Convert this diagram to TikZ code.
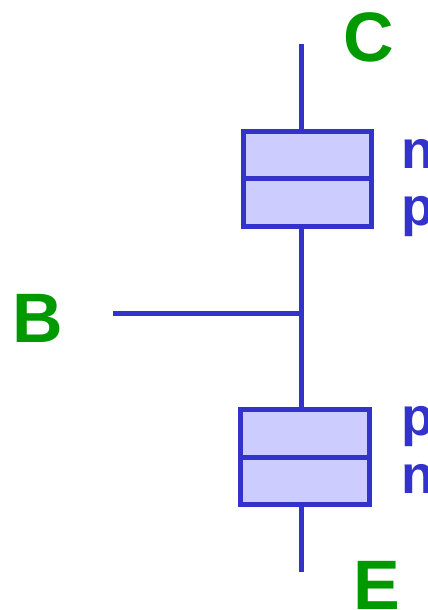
\documentclass[tikz,border=0pt]{standalone}
\usepackage{fontspec}
\setmainfont{Liberation Sans}
\definecolor{wireblue}{HTML}{3333CC}
\definecolor{boxfill}{HTML}{CCCCFF}
\definecolor{labgreen}{HTML}{009900}
\begin{document}
\begin{tikzpicture}[x=1pt,y=-1pt,
  wire/.style={draw=wireblue,line width=5pt},
  cellbox/.style={rectangle,draw=wireblue,fill=boxfill,line width=5pt,inner sep=0pt,minimum width=128pt,minimum height=95pt},
  term/.style={text=labgreen,font=\fontsize{70}{70}\selectfont\bfseries,inner sep=0pt,anchor=base west},
  pol/.style={text=wireblue,font=\fontsize{54}{54}\selectfont\bfseries,inner sep=0pt,anchor=base west}]
\useasboundingbox (0,0) rectangle (428,610);
\clip (0,0) rectangle (428,610);
% boxes
\node[cellbox] (top) at (307.5,178.5) {};
\node[cellbox,minimum width=129pt] (bot) at (305,457) {};
\draw[wire] (top.west |- 0,178) -- (top.east |- 0,178);
\draw[wire] (bot.west |- 0,457) -- (bot.east |- 0,457);
% wires
\coordinate (ctop) at (301,44);
\coordinate (junc) at (301,313);
\coordinate (bend) at (113,313);
\coordinate (eend) at (301,572);
\draw[wire] (ctop) -- (ctop |- top.north);
\draw[wire] (ctop |- top.south) -- (ctop |- bot.north);
\draw[wire] (ctop |- bot.south) -- (eend);
\draw[wire] (bend) -- ([xshift=2pt]junc);
% labels
\node[term] (C) at (343.5,61) {C};
\node[term] (B) at (12,342) {B};
\node[term] (E) at (353,609) {E};
\node[pol] (n1) at (401.5,168) {n};
\node[pol] (p1) at (401.5,225) {p};
\node[pol] (p2) at (401.5,435) {p};
\node[pol] (n2) at (401.5,493) {n};
\end{tikzpicture}
\end{document}
